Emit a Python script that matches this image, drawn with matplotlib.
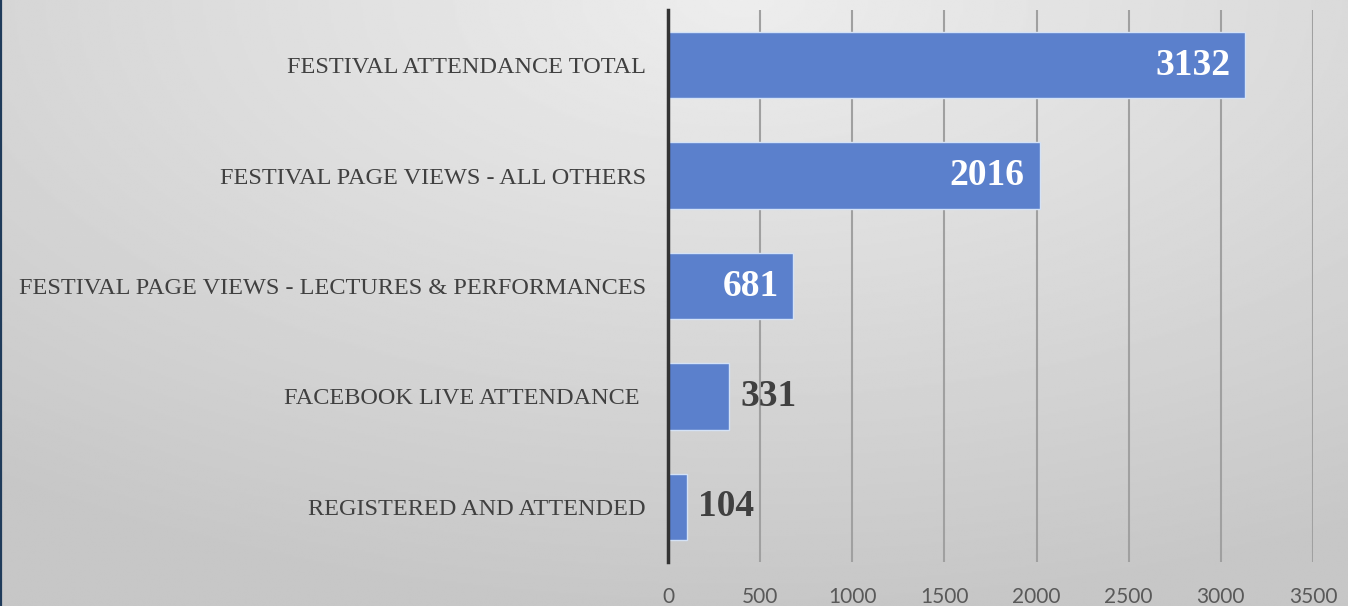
import numpy as np
import matplotlib.pyplot as plt

categories = ['REGISTERED AND ATTENDED', 'FACEBOOK LIVE ATTENDANCE ',
              'FESTIVAL PAGE VIEWS - LECTURES & PERFORMANCES',
              'FESTIVAL PAGE VIEWS - ALL OTHERS', 'FESTIVAL ATTENDANCE TOTAL']
values = [104, 331, 681, 2016, 3132]
x_ticks = [0, 500, 1000, 1500, 2000, 2500, 3000, 3500]

BAR_COLOR = '#5b80cc'
TEXT_DARK = '#404040'

fig = plt.figure(figsize=(13.48, 6.06), dpi=100)

# background: soft radial grey gradient, lighter at top centre
bg = fig.add_axes([0, 0, 1, 1], zorder=-10)
yy, xx = np.mgrid[0:1:300j, 0:1:600j]
dist = np.sqrt(((xx - 0.55) * 1.0) ** 2 + ((yy - 0.0) * 0.9) ** 2)
shade = 0.93 - 0.15 * np.clip(dist / 0.9, 0, 1)
bg.imshow(shade, cmap='gray', vmin=0, vmax=1, aspect='auto', extent=[0, 1, 1, 0])
bg.axvline(0.0006, color='#1f3b5a', lw=1.6)
bg.set_xlim(0, 1)
bg.set_ylim(1, 0)
bg.axis('off')

ax = fig.add_axes([668 / 1348, 1 - 562 / 606, (1313 - 668) / 1348, (562 - 10) / 606])
ax.patch.set_alpha(0)

ypos = np.arange(len(categories))
ax.barh(ypos, values, height=0.6, color=BAR_COLOR, edgecolor='#d4e2f6', linewidth=1, zorder=3)

for y, v in zip(ypos, values):
    if v > 500:
        ax.text(v - 80, y, str(v), ha='right', va='center', color='white',
                fontsize=27, fontweight='bold', family='Liberation Serif', zorder=4)
    else:
        ax.text(v + 60, y, str(v), ha='left', va='center', color=TEXT_DARK,
                fontsize=27, fontweight='bold', family='Liberation Serif', zorder=4)

ax.set_xlim(0, 3500)
ax.set_ylim(-0.5, len(categories) - 0.5)
ax.set_xticks(x_ticks)
ax.set_xticklabels([str(t) for t in x_ticks], family='Lato', fontsize=15, color='#595959')
ax.set_yticks(ypos)
ax.set_yticklabels(categories, family='Liberation Serif', fontsize=17.5, color=TEXT_DARK)
ax.tick_params(axis='x', length=0, pad=18)
ax.tick_params(axis='y', length=0, pad=16)
ax.grid(axis='x', color='#a0a0a0', lw=1.5, zorder=1)
for s in ['top', 'right', 'bottom']:
    ax.spines[s].set_visible(False)
ax.spines['left'].set_color('#333333')
ax.spines['left'].set_linewidth(2.5)
ax.spines['left'].set_zorder(5)

fig.savefig('out.png', dpi=100)
